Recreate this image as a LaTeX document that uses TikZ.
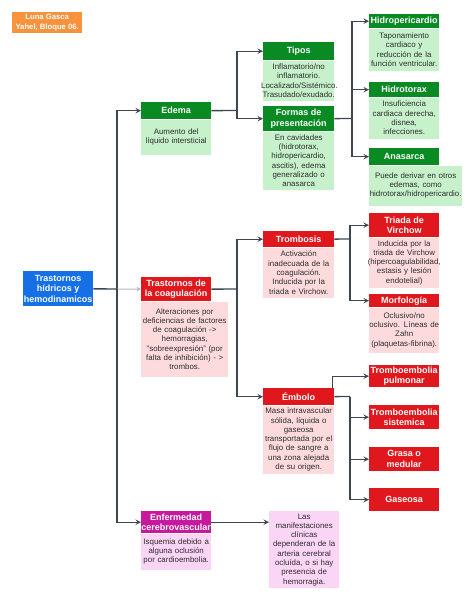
\documentclass[tikz,border=0pt]{standalone}
\usepackage{fontspec}
\setmainfont{Liberation Sans}
\usetikzlibrary{positioning}
\definecolor{grnhd}{HTML}{0A8A22}
\definecolor{grnbd}{HTML}{C6F1CB}
\definecolor{redhd}{HTML}{E0171C}
\definecolor{redbd}{HTML}{FDDBDD}
\definecolor{bluehd}{HTML}{1570E6}
\definecolor{orghd}{HTML}{F8923C}
\definecolor{maghd}{HTML}{C8189E}
\definecolor{magbd}{HTML}{FBD5F5}
\definecolor{lnk}{HTML}{3E4652}
\definecolor{bdtxt}{HTML}{2E2E2E}

\begin{document}
\begin{tikzpicture}[x=1pt,y=-1pt,>=stealth,
  hd/.style={anchor=north west,minimum width=70pt,inner sep=0pt,align=center,text=white,font=\bfseries\fontsize{9}{10.7}\selectfont},
  bd/.style={anchor=north west,minimum width=70pt,text width=74pt,inner xsep=-2pt,inner ysep=1pt,align=center,text=bdtxt,font=\fontsize{7.9}{9.3}\selectfont},
  lk/.style={draw=lnk,line width=1.4pt}]
\useasboundingbox (0,0) rectangle (474,600);

\node[hd,fill=orghd,minimum height=21pt,font=\bfseries\fontsize{7.7}{9.7}\selectfont] (autor) at (12,12) {Luna Gasca\\Yahel, Bloque 06.};
\node[hd,fill=bluehd,minimum height=35pt] (raiz) at (23,271) {Trastornos\\hídricos y\\hemodinamicos};

\node[hd,fill=grnhd,minimum height=17pt] (edemah) at (141,102) {Edema};
\node[bd,fill=grnbd,minimum height=35pt] (edemab) at (edemah.south west) {Aumento del\\líquido intersticial};
\node[hd,fill=grnhd,minimum width=71pt,minimum height=18pt] (tiposh) at (263,42) {Tipos};
\node[bd,fill=grnbd,text width=75pt,minimum height=40pt] (tiposb) at (tiposh.south west) {Inflamatorio/no\\inflamatorio.\\Localizado/Sistémico.\\Trasudado/exudado.};
\node[hd,fill=grnhd,minimum width=71pt,minimum height=25pt] (formash) at (263,106) {Formas de\\presentación};
\node[bd,fill=grnbd,text width=75pt,minimum height=58pt] (formasb) at (formash.south west) {En cavidades\\(hidrotorax,\\hidropericardio,\\ascitis), edema\\generalizado o\\anasarca};
\node[hd,fill=grnhd,minimum height=14pt] (hidroperh) at (369,14) {Hidropericardio};
\node[bd,fill=grnbd,minimum height=42pt] (hidroperb) at (hidroperh.south west) {Taponamiento\\cardiaco y\\reducción de la\\función ventricular.};
\node[hd,fill=grnhd,minimum height=15pt] (hidrotoh) at (369,82) {Hidrotorax};
\node[bd,fill=grnbd,minimum height=41pt] (hidrotob) at (hidrotoh.south west) {Insuficiencia\\cardiaca derecha,\\disnea,\\infecciones.};
\node[hd,fill=grnhd,minimum height=17pt] (anash) at (369,148) {Anasarca};
\node[bd,fill=grnbd,text width=97pt,minimum height=40pt] (anasb) at (anash.south west) {Puede derivar en otros\\edemas, como\\hidrotorax/hidropericardio.};

\node[hd,fill=redhd,minimum height=24pt] (coagh) at (141,277) {Trastornos de\\la coagulación};
\node[bd,fill=redbd,text width=91pt,minimum height=75pt] (coagb) at (coagh.south west) {Alteraciones por\\deficiencias de factores\\de coagulación ->\\hemorragias,\\"sobreexpresión" (por\\falta de inhibición) - >\\trombos.};
\node[hd,fill=redhd,minimum width=71pt,minimum height=16pt] (trombh) at (263,231) {Trombosis};
\node[bd,fill=redbd,text width=75pt,minimum height=50pt] (trombb) at (trombh.south west) {Activación\\inadecuada de la\\coagulación.\\Inducida por la\\triada e Virchow.};
\node[hd,fill=redhd,minimum height=24pt] (triadah) at (369,213) {Triada de\\Virchow};
\node[bd,fill=redbd,minimum height=50pt] (triadab) at (triadah.south west) {Inducida por la\\triada de Virchow\\(hipercoagulabilidad,\\estasis y lesión\\endotelial)};
\node[hd,fill=redhd,minimum height=13pt] (morfh) at (369,294) {Morfología};
\node[bd,fill=redbd,minimum height=45pt] (morfb) at (morfh.south west) {Oclusivo/no\\oclusivo. Líneas de\\Zahn\\(plaquetas-fibrina).};
\node[hd,fill=redhd,minimum width=71pt,minimum height=17pt] (embh) at (263,388) {Émbolo};
\node[bd,fill=redbd,text width=75pt,minimum height=68pt] (embb) at (embh.south west) {Masa intravascular\\sólida, líquida o\\gaseosa\\transportada por el\\flujo de sangre a\\una zona alejada\\de su origen.};
\node[hd,fill=redhd,minimum height=22pt] (tepulh) at (369,365) {Tromboembolia\\pulmonar};
\node[hd,fill=redhd,minimum height=24pt] (tesish) at (369,405) {Tromboembolia\\sistemica};
\node[hd,fill=redhd,minimum height=24pt] (grasah) at (369,447) {Grasa o\\medular};
\node[hd,fill=redhd,minimum height=23pt] (gaseh) at (369,488) {Gaseosa};

\node[hd,fill=maghd,minimum height=22pt] (enfh) at (141,511) {Enfermedad\\cerebrovascular};
\node[bd,fill=magbd,minimum height=36pt] (enfb) at (enfh.south west) {Isquemia debido a\\alguna oclusión\\por cardioembolia.};
\node[bd,fill=magbd,minimum height=77pt] (manif) at (269,511) {Las\\manifestaciones\\clínicas\\dependeran de la\\arteria cerebral\\ocluída, o si hay\\presencia de\\hemorragia.};

\coordinate (tronco) at (117,289);
\draw[lk] (raiz) -- (tronco);
\draw[lk,->] (tronco) |- (edemah);
\draw[lk,->,draw=lnk!40,line width=1pt] (tronco) -- (coagh);
\draw[lk,->] (tronco) |- (enfh);

\coordinate (edemaf) at (237,110.5);
\draw[lk] (edemah) -- (edemaf);
\draw[lk,->] (edemaf) |- (tiposh);
\draw[lk,->] (edemaf) |- (formash);

\coordinate (formasf) at (352,118.5);
\draw[lk] (formash) -- (formasf);
\draw[lk,->] (formasf) |- (hidroperh);
\draw[lk,->] (formasf) |- (hidrotoh);
\draw[lk,->] (formasf) |- (anash);

\coordinate (coagf) at (237,289);
\draw[lk] (coagh) -- (coagf);
\draw[lk,->] (coagf) |- (trombh);
\draw[lk,->] (coagf) |- (embh);

\coordinate (trombf) at (350,239);
\draw[lk] (trombh) -- (trombf);
\draw[lk,->] (trombf) |- (triadah);
\draw[lk,->] (trombf) |- (morfh);

\draw[lk,->] ([xshift=-2pt]embh.north east) |- (tepulh);
\coordinate (embf) at (350,396.5);
\draw[lk] (embh) -- (embf);
\draw[lk,->] (embf) |- (tesish);
\draw[lk,->] (embf) |- (grasah);
\draw[lk,->] (embf) |- (gaseh);

\draw[lk,->] (enfh) -- (enfh.east -| manif.west);
\end{tikzpicture}
\end{document}
